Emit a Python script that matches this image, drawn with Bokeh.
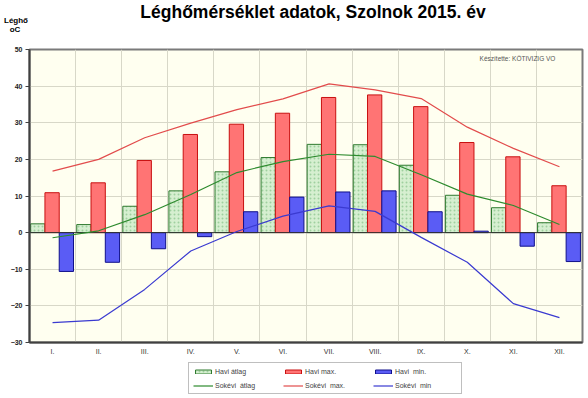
import numpy as np
from bokeh.plotting import figure
from bokeh.layouts import column
from bokeh.models import (Range1d, FixedTicker, Legend, LegendItem, Label, Grid, Div)
from bokeh.embed import file_html
from bokeh.resources import INLINE

months = ["I.", "II.", "III.", "IV.", "V.", "VI.", "VII.", "VIII.", "IX.", "X.", "XI.", "XII."]
havi_atlag = [2.4, 2.2, 7.2, 11.4, 16.6, 20.5, 24.1, 24.0, 18.4, 10.2, 6.8, 2.7]
havi_max = [10.9, 13.6, 19.7, 26.8, 29.6, 32.6, 36.9, 37.6, 34.4, 24.6, 20.7, 12.8]
havi_min = [-10.6, -8.1, -4.4, -1.1, 5.7, 9.7, 11.1, 11.4, 5.7, 0.4, -3.7, -7.9]
sokevi_atlag = [-1.4, 0.5, 4.9, 10.4, 16.4, 19.4, 21.4, 20.8, 15.8, 10.5, 7.4, 2.2]
sokevi_max = [16.8, 20.0, 25.9, 29.9, 33.6, 36.5, 40.6, 39.0, 36.6, 28.8, 23.0, 18.0]
sokevi_min = [-24.6, -23.9, -15.5, -5.0, 0.3, 4.5, 7.3, 5.8, -1.3, -8.1, -19.4, -23.2]
y_ticks = [-30, -20, -10, 0, 10, 20, 30, 40, 50]
labels = ["Havi átlag", "Havi max.", "Havi  min.", "Sokévi  átlag", "Sokévi  max.", "Sokévi  min"]
title_text = "Léghőmérséklet adatok, Szolnok 2015. év"

x = np.arange(1, len(months) + 1)

FONT = "Liberation Sans"

bar_styles = [
    dict(fill_color="#d6efd0", line_color="#2f7a2f", line_width=1,
         hatch_pattern="dot", hatch_color="#9fd09f", hatch_scale=4, hatch_weight=1),
    dict(fill_color="#ff7474", line_color="#c81010", line_width=1),
    dict(fill_color="#5a5cf5", line_color="#10108a", line_width=1),
]
line_styles = [
    dict(line_color="#2e8b2e", line_width=1.2),
    dict(line_color="#e24c4c", line_width=1.2),
    dict(line_color="#3a3ad0", line_width=1.2),
]

# ---------------- header (title texts) ----------------
head_html = (
    '<div style="position:relative;width:588px;height:44px;font-family:\'Liberation Sans\',Arial,sans-serif;color:#000;">'
    '<div style="position:absolute;left:13px;width:600px;top:2px;text-align:center;'
    'font-size:17.5px;line-height:20px;font-weight:bold;white-space:nowrap;">' + title_text + '</div>'
    '<div style="position:absolute;left:0px;width:32px;top:16px;text-align:center;'
    'font-size:8px;line-height:10px;font-weight:bold;">Léghő</div>'
    '<div style="position:absolute;left:0px;width:30px;top:25px;text-align:center;'
    'font-size:8px;line-height:10px;font-weight:bold;">oC</div>'
    '</div>'
)
head = Div(text=head_html, width=588, height=44, margin=(0, 0, 0, 0))

# ---------------- main chart ----------------
p = figure(frame_width=553, frame_height=293, output_backend="svg", toolbar_location=None,
           title=None, x_range=Range1d(0.5, 12.5), y_range=Range1d(-30, 50),
           min_border_left=29, min_border_top=5, min_border_right=6, min_border_bottom=14)
p.border_fill_color = "#ffffff"
p.background_fill_color = "#fffff0"
p.outline_line_color = "#7a7a7a"
p.outline_line_width = 2

p.xaxis.ticker = FixedTicker(ticks=list(x))
p.xaxis.major_label_overrides = {int(i): m for i, m in zip(x, months)}
p.yaxis.ticker = FixedTicker(ticks=y_ticks)
for ax in (p.xaxis[0], p.yaxis[0]):
    ax.axis_line_color = "#404040"
    ax.axis_line_width = 2
    ax.major_label_text_font = FONT
    ax.major_label_text_font_size = "7px"
    ax.major_label_text_font_style = "bold"
    ax.major_label_text_color = "#222222"
    ax.minor_tick_line_color = None
p.xaxis.major_label_text_font_style = "normal"
p.xaxis.major_label_text_color = "#333333"
p.xaxis.major_tick_line_color = None
p.xaxis.major_tick_out = 0
p.xaxis.major_tick_in = 0
p.xaxis.major_label_standoff = 5
p.yaxis.major_tick_out = 4
p.yaxis.major_tick_in = 0
p.yaxis.major_tick_line_color = "#404040"
p.yaxis.major_label_standoff = 3

p.xgrid.visible = False
p.ygrid.grid_line_color = "#d8d8c8"
p.ygrid.grid_line_width = 1
p.add_layout(Grid(dimension=0, ticker=FixedTicker(ticks=list(x[:-1] + 0.5)),
                  grid_line_color="#d8d8c8", grid_line_width=1))

bw = 0.31
p.vbar(x=x - 0.32, top=havi_atlag, bottom=0, width=bw, **bar_styles[0])
p.vbar(x=x - 0.01, top=havi_max, bottom=0, width=bw, **bar_styles[1])
p.vbar(x=x + 0.30, top=havi_min, bottom=0, width=bw, **bar_styles[2])

p.line(x=[0.5, 12.5], y=[0, 0], line_color="#333333", line_width=1)

p.line(x=x, y=sokevi_atlag, **line_styles[0])
p.line(x=x, y=sokevi_max, **line_styles[1])
p.line(x=x, y=sokevi_min, **line_styles[2])

p.add_layout(Label(x=488, y=284, x_units="screen", y_units="screen",
                   text="Készítette: KÖTIVIZIG VO",
                   text_font=FONT, text_font_size="6.5px", text_color="#555555",
                   text_align="center", text_baseline="middle"))

# ---------------- footer (legend) ----------------
foot = figure(width=588, height=42, output_backend="svg", toolbar_location=None, title=None,
              x_axis_location=None, y_axis_location=None,
              x_range=Range1d(0, 1), y_range=Range1d(0, 1),
              min_border_left=0, min_border_right=0, min_border_top=0, min_border_bottom=0)
foot.outline_line_color = None
foot.grid.visible = False
foot.background_fill_color = "#ffffff"
foot.border_fill_color = "#ffffff"
# legend-only renderers, kept outside the visible range of this strip
leg_r = []
for st in bar_styles:
    leg_r.append(foot.vbar(x=[-5], top=[-5], bottom=-6, width=0.1, **st))
for st in line_styles:
    leg_r.append(foot.line(x=[-6, -5], y=[-5, -5], **st))

legend = Legend(items=[LegendItem(label=lab, renderers=[r]) for lab, r in zip(labels, leg_r)],
                location=(159, 5), orientation="horizontal", nrows=2)
legend.label_text_font = FONT
legend.label_text_font_size = "7px"
legend.label_height = 8
legend.glyph_height = 5
legend.glyph_width = 20
legend.label_standoff = 2
legend.spacing = 6
legend.padding = 4
legend.margin = 0
legend.label_width = 62
legend.border_line_color = "#808080"
legend.border_line_width = 1
legend.background_fill_color = "#ffffff"
legend.background_fill_alpha = 1
foot.add_layout(legend)

layout = column(head, p, foot, spacing=0)
open("out.html", "w").write(file_html(layout, INLINE))
